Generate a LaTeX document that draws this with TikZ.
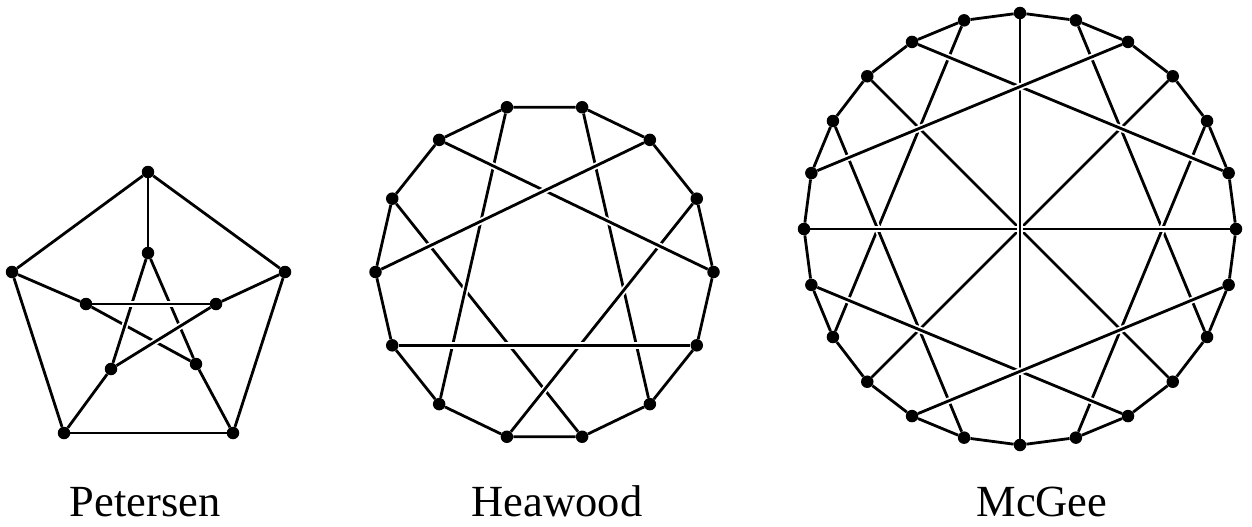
\documentclass[tikz,border=0pt]{standalone}
\usepackage{fontspec}
\setmainfont{Liberation Serif}
\begin{document}
\begin{tikzpicture}[x=1pt,y=-1pt,
  dot/.style={circle, fill=black, inner sep=0pt, minimum size=12.5pt},
  ed/.style={line width=2.8pt, preaction={draw=white, line width=6.5pt, shorten <=4pt, shorten >=4pt}},
  lbl/.style={anchor=base, inner sep=0pt, font=\fontsize{44.5}{50}\selectfont}]
\useasboundingbox (0,0) rectangle (1252,527);
% ---------- Petersen ----------
\node[dot] (po0) at (148,172) {};
\node[dot] (po1) at (285,272) {};
\node[dot] (po2) at (233,433) {};
\node[dot] (po3) at (64,433) {};
\node[dot] (po4) at (12,272) {};
\node[dot] (pi0) at (148,253) {};
\node[dot] (pi1) at (216,304) {};
\node[dot] (pi2) at (196,364) {};
\node[dot] (pi3) at (111,369) {};
\node[dot] (pi4) at (86,304) {};
\foreach \a/\b in {po0/po1,po1/po2,po2/po3,po3/po4,po4/po0,po0/pi0,po1/pi1,po2/pi2,po3/pi3,po4/pi4}
  \draw[ed] (\a)--(\b);
\foreach \a/\b in {pi4/pi2,pi0/pi2,pi0/pi3,pi1/pi3,pi4/pi1}
  \draw[ed] (\a)--(\b);
% ---------- Heawood ----------
\foreach \k in {0,...,13}
  \node[dot] (h\k) at ({544.5+169*cos(\k*360/14)},{272-169*sin(\k*360/14)}) {};
\foreach \k in {0,...,13}{
  \pgfmathtruncatemacro{\n}{mod(\k+1,14)}
  \draw[ed] (h\k)--(h\n);
}
\foreach \a/\b in {6/11,4/9,3/12,1/10,5/0,2/7,8/13}
  \draw[ed] (h\a)--(h\b);
% ---------- McGee ----------
\foreach \k in {0,...,23}
  \node[dot] (m\k) at ({1020+216*cos(\k*15)},{229-216*sin(\k*15)}) {};
\foreach \k in {0,...,23}{
  \pgfmathtruncatemacro{\n}{mod(\k+1,24)}
  \draw[ed] (m\k)--(m\n);
}
\foreach \a/\b in {7/14,5/22,10/17,2/19,9/21,3/15,0/12,6/18,8/1,11/4,13/20,16/23}
  \draw[ed] (m\a)--(m\b);
% ---------- labels ----------
\node[lbl] (lp) at (145,516) {Petersen};
\node[lbl] (lh) at (557,516) {Heawood};
\node[lbl] (lm) at (1042,516) {McGee};
\end{tikzpicture}
\end{document}
